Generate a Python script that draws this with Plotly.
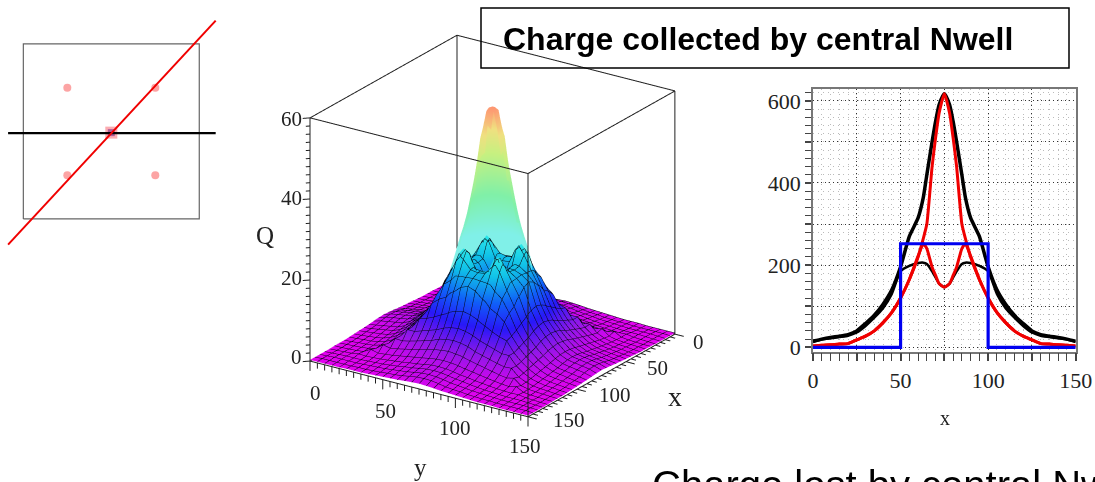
import plotly.graph_objects as go
import numpy as np

W, H = 1095, 482

# ---- left sketch ----
pts_x = [37.5, 112.5, 37.5, 112.5]
pts_y = [112.5, 112.5, 37.5, 37.5]
centre_x = [75]
centre_y = [74]
square_x = [0, 150, 150, 0, 0]
square_y = [0, 0, 150, 150, 0]
hline_x = [-13, 164]
hline_y = [73.5, 73.5]
diag_x = [-13, 164]
diag_y = [-22, 170]

# ---- right slices ----
slice_x = [0, 5, 10, 15, 20, 25, 30, 35, 40, 45, 50, 55, 60, 63, 65, 68, 70, 72, 75,
           78, 80, 82, 85, 87, 90, 95, 100, 105, 110, 115, 120, 125, 130, 135, 140, 145, 150]
black_peak = [15, 20, 24, 27, 31, 40, 58, 78, 105, 140, 196, 270, 315, 365, 420, 500, 550, 590, 617,
              590, 550, 500, 420, 365, 315, 270, 196, 140, 105, 78, 58, 40, 31, 27, 24, 20, 15]
black_bump = [13, 19, 22, 25, 28, 36, 52, 72, 95, 130, 185, 198, 205, 206, 203, 185, 170, 155, 146,
              155, 170, 185, 203, 206, 205, 198, 185, 130, 95, 72, 52, 36, 28, 25, 22, 19, 13]
red_peak = [3, 5, 6, 8, 9, 18, 27, 40, 60, 85, 120, 165, 220, 265, 300, 440, 510, 570, 617,
            570, 510, 440, 300, 265, 220, 165, 120, 85, 60, 40, 27, 18, 9, 8, 6, 5, 3]
red_bump = [3, 5, 6, 8, 9, 18, 27, 40, 60, 85, 120, 165, 222, 252, 240, 195, 175, 155, 146,
            155, 175, 195, 240, 252, 222, 165, 120, 85, 60, 40, 27, 18, 9, 8, 6, 5, 3]
blue_x = [0, 50, 50, 100, 100, 150]
blue_y = [0, 0, 252, 252, 0, 0]

# ---- 3D surface: distance from centre, upper triangle of the symmetric quarter ----
d_vals = [0, 5, 9, 12, 15, 20, 25, 30, 35, 40, 45, 50, 55, 60, 65, 70, 75]
crown_rows = [
    [14.5, 17, 19.8, 20.6, 20.5, 19.8, 18.5, 13, 9.5, 7.2, 5.2, 3.6, 2.8, 2.5, 2.2, 1.9, 1.3],
    [17.5, 20, 21, 20.8, 19.6, 17.8, 12.6, 9.2, 7, 5, 3.5, 2.7, 2.4, 2.1, 1.8, 1.2],
    [23.5, 24.2, 22.5, 19.5, 16.5, 12, 8.8, 6.7, 4.8, 3.3, 2.5, 2.2, 1.9, 1.6, 1.1],
    [25, 23.5, 19.3, 15.8, 11.3, 8.3, 6.3, 4.5, 3.1, 2.3, 2, 1.7, 1.4, 1],
    [22, 18, 14.5, 10.8, 7.8, 5.8, 4.2, 2.9, 2.1, 1.8, 1.5, 1.2, 0.9],
    [16.5, 13.5, 9.8, 7.2, 5.3, 3.8, 2.6, 1.9, 1.6, 1.3, 1, 0.8],
    [12, 9, 6.6, 4.8, 3.4, 2.3, 1.6, 1.3, 1.1, 0.9, 0.7],
    [8.5, 6, 4.3, 3, 2, 1.4, 1.1, 0.9, 0.7, 0.6],
    [6, 3.9, 2.6, 1.7, 1.2, 0.9, 0.8, 0.6, 0.5],
    [4, 2.3, 1.5, 1, 0.8, 0.7, 0.5, 0.4],
    [2.7, 1.3, 0.9, 0.7, 0.6, 0.5, 0.4],
    [1.8, 0.8, 0.6, 0.5, 0.4, 0.4],
    [0.9, 0.6, 0.5, 0.4, 0.3],
    [0.6, 0.5, 0.4, 0.3],
    [0.5, 0.4, 0.3],
    [0.4, 0.3],
    [0.3],
]
spike_d = [0, 2.5, 5, 7.5, 10, 12.5, 15, 17.5, 20, 25, 30]
spike_rows = [
    [59.5, 59, 55, 48.5, 41.5, 36, 32, 28.5, 26.5, 20, 12],
    [59, 58.5, 54, 47.5, 41, 36, 31.5, 28, 26, 19.5, 12],
    [55, 54, 52, 45.5, 39.5, 35, 31, 27.5, 25, 18, 11.5],
    [48.5, 47.5, 45.5, 42, 37.5, 33, 29.5, 26.5, 23, 17, 11],
    [41.5, 41, 39.5, 37.5, 34, 30.5, 27.5, 24, 20, 15, 10],
    [36, 36, 35, 33, 30.5, 28, 25.5, 22, 18, 13, 9],
    [32, 31.5, 31, 29.5, 27.5, 25.5, 23, 20, 16, 11, 8],
    [28.5, 28, 27.5, 26.5, 24, 22, 20, 17, 14, 10, 7.5],
    [26.5, 26, 25, 23, 20, 18, 16, 14, 12, 9, 7],
    [20, 19.5, 18, 17, 15, 13, 11, 10, 9, 8, 6],
    [12, 12, 11.5, 11, 10, 9, 8, 7.5, 7, 6, 5],
]
box_ticks_xy = list(range(0, 151, 5))
box_ticks_z = list(range(0, 61, 2))


def full_grid(dvals, rows_triangle):
    n = len(dvals)
    q = np.zeros((n, n))
    for i, row in enumerate(rows_triangle):
        for k, v in enumerate(row):
            q[i, i + k] = v
            q[i + k, i] = v
    idx = list(range(n - 1, 0, -1)) + list(range(n))
    return np.array([75 - dvals[i] for i in range(n - 1, 0, -1)] + [75 + dvals[i] for i in range(n)]), q[np.ix_(idx, idx)]


crown_xy, crown_z = full_grid(d_vals, crown_rows)
spike_tri = [r[i:] for i, r in enumerate(spike_rows)]
spike_xy, spike_z = full_grid(spike_d, spike_tri)
# only the part standing behind the crown is seen
sx, sy = np.meshgrid(spike_xy, spike_xy)
spike_z = np.where((sx - 75) * 0.77 + (sy - 75) * 0.52 <= 6, spike_z, np.nan)


def px(x):
    return x / W


def py(y):
    return 1 - y / H


fig = go.Figure()
# left sketch (xaxis2)
fig.add_trace(go.Scatter(x=square_x, y=square_y, mode="lines", line=dict(color="#666666", width=1.2), xaxis="x2", yaxis="y2"))
fig.add_trace(go.Scatter(x=pts_x, y=pts_y, mode="markers", marker=dict(color="rgba(250,90,90,0.55)", size=8), xaxis="x2", yaxis="y2"))
fig.add_trace(go.Scatter(x=centre_x, y=centre_y, mode="markers", marker=dict(color="rgba(250,90,100,0.5)", size=12, symbol="square"), xaxis="x2", yaxis="y2"))
fig.add_trace(go.Scatter(x=centre_x, y=centre_y, mode="markers", marker=dict(color="rgba(120,40,140,0.6)", size=7, symbol="square"), xaxis="x2", yaxis="y2"))
fig.add_trace(go.Scatter(x=hline_x, y=hline_y, mode="lines", line=dict(color="black", width=2.2), xaxis="x2", yaxis="y2"))
fig.add_trace(go.Scatter(x=diag_x, y=diag_y, mode="lines", line=dict(color="#f00000", width=2), xaxis="x2", yaxis="y2"))

# right slices
fig.add_trace(go.Scatter(x=slice_x, y=black_peak, mode="lines", line=dict(color="black", width=3.5, shape="spline", smoothing=0.5)))
fig.add_trace(go.Scatter(x=slice_x, y=black_bump, mode="lines", line=dict(color="black", width=2.5, shape="spline", smoothing=0.5)))
fig.add_trace(go.Scatter(x=slice_x, y=red_peak, mode="lines", line=dict(color="#f00000", width=3, shape="spline", smoothing=0.5)))
fig.add_trace(go.Scatter(x=slice_x, y=red_bump, mode="lines", line=dict(color="#f00000", width=3, shape="spline", smoothing=0.5)))
fig.add_trace(go.Scatter(x=blue_x, y=blue_y, mode="lines", line=dict(color="#0000f0", width=3.2)))

# 3D surfaces
crown_scale = [[0, "#e800f0"], [0.2, "#9018e8"], [0.4, "#2818f8"], [0.6, "#1060f8"], [0.8, "#10c0e8"], [1, "#30f0e8"]]
spike_scale = [[0, "#80f0e8"], [0.3, "#80f0a8"], [0.62, "#c8f080"], [0.8, "#f0e080"], [1, "#ff9070"]]
flat = dict(ambient=1, diffuse=0, specular=0, fresnel=0, roughness=1)
fig.add_trace(go.Surface(x=spike_xy, y=spike_xy, z=spike_z, colorscale=spike_scale, cmin=25, cmax=60, showscale=False,
                         lighting=flat, hoverinfo="skip", scene="scene"))
mesh = dict(show=True, start=0, end=150, size=5, color="#050510", width=6, highlight=False)
fig.add_trace(go.Surface(x=crown_xy, y=crown_xy, z=crown_z, colorscale=crown_scale, cmin=0, cmax=26, showscale=False,
                         lighting=flat, hoverinfo="skip", scene="scene",
                         contours=dict(x=mesh, y=mesh, z=dict(show=False, highlight=False))))

# cube edges and ticks
ex, ey, ez = [], [], []
for a, b in [((0,0,0),(150,0,0)),((150,0,0),(150,150,0)),((150,150,0),(0,150,0)),((0,150,0),(0,0,0)),
             ((0,0,60),(150,0,60)),((150,0,60),(150,150,60)),((150,150,60),(0,150,60)),((0,150,60),(0,0,60)),
             ((0,0,0),(0,0,60)),((150,0,0),(150,0,60)),((150,150,0),(150,150,60)),((0,150,0),(0,150,60))]:
    ex += [a[0], b[0], None]; ey += [a[1], b[1], None]; ez += [a[2], b[2], None]
fig.add_trace(go.Scatter3d(x=ex, y=ey, z=ez, mode="lines", line=dict(color="#202020", width=2), hoverinfo="skip", scene="scene"))
tx, ty, tz = [], [], []
for t in box_ticks_xy:
    ln = 6 if t % 50 == 0 else 3.5
    tx += [150, 150, None]; ty += [t, t, None]; tz += [0, -ln / 2.5, None]
    tx += [t, t, None]; ty += [150, 150 + ln, None]; tz += [0, 0, None]
for t in box_ticks_z:
    ln = 6 if t % 20 == 0 else 3.5
    tx += [150, 150 + ln * 0.5, None]; ty += [0, -ln * 0.5, None]; tz += [t, t, None]
fig.add_trace(go.Scatter3d(x=tx, y=ty, z=tz, mode="lines", line=dict(color="#202020", width=2), hoverinfo="skip", scene="scene"))

eye = np.array([0.767, 0.517, 0.379]) * 1.9
hid = dict(visible=False, showgrid=False, zeroline=False, showspikes=False, showbackground=False)
ext = 166.0 / 150 * 1.163
fig.update_layout(
    width=W, height=H, autosize=False, showlegend=False,
    margin=dict(l=0, r=0, t=0, b=0, autoexpand=False),
    paper_bgcolor="white", plot_bgcolor="white",
    font=dict(family="Liberation Serif", color="#222222", size=22),
    xaxis=dict(domain=[px(813), px(1075.7)], range=[0, 150], anchor="y", tickvals=[0, 25, 50, 75, 100, 125, 150],
               ticktext=["0", "", "50", "", "100", "", "150"], ticks="outside", ticklen=8, tickwidth=1.5, tickcolor="#444",
               showline=True, linecolor="#777", linewidth=1.5, mirror=True, zeroline=False,
               showgrid=True, griddash="1px,3px", gridcolor="#333", gridwidth=1,
               tickfont=dict(size=22), ticklabelstandoff=0,
               minor=dict(dtick=5, ticks="outside", ticklen=8, tickwidth=1.2, tickcolor="#444", showgrid=True,
                          griddash="1px,4px", gridcolor="#bbbbbb", gridwidth=1)),
    yaxis=dict(domain=[py(351.7), py(89.3)], range=[-10.7, 628], anchor="x", tickvals=[0, 100, 200, 300, 400, 500, 600],
               ticktext=["0", "", "200", "", "400", "", "600"], ticks="outside", ticklen=6, tickwidth=1.5, tickcolor="#444",
               showline=True, linecolor="#777", linewidth=1.5, mirror=True, zeroline=False,
               showgrid=True, griddash="1px,3px", gridcolor="#333", gridwidth=1,
               tickfont=dict(size=22), ticklabelstandoff=0,
               minor=dict(dtick=20, ticks="outside", ticklen=6, tickwidth=1.2, tickcolor="#444", showgrid=True,
                          griddash="1px,4px", gridcolor="#bbbbbb", gridwidth=1)),
    xaxis2=dict(domain=[0, px(230)], range=[-19.9, 176.2], visible=False, anchor="y2"),
    yaxis2=dict(domain=[py(250), py(10)], range=[-26.6, 179.1], visible=False, anchor="x2"),
    scene=dict(
        domain=dict(x=[px(262), px(723)], y=[py(452), py(0)]),
        bgcolor="rgba(0,0,0,0)",
        xaxis=dict(range=[-8, 158], **hid), yaxis=dict(range=[-8, 158], **hid), zaxis=dict(range=[-3.2, 63.2], **hid),
        aspectmode="manual", aspectratio=dict(x=ext, y=ext, z=ext),
        camera=dict(eye=dict(x=eye[0], y=eye[1], z=eye[2]), center=dict(x=0, y=0, z=0), up=dict(x=0, y=0, z=1),
                    projection=dict(type="orthographic")),
    ),
    shapes=[dict(type="rect", xref="paper", yref="paper", x0=px(481), x1=px(1069), y0=py(68), y1=py(8),
                 line=dict(color="black", width=1.5))],
)


def label(text, x, y, size=21, family="Liberation Serif", weight="normal", xanchor="center", color="#222222"):
    fig.add_annotation(xref="paper", yref="paper", x=px(x), y=py(y), text=text, showarrow=False, xanchor=xanchor, yanchor="middle",
                       font=dict(size=size, family=family, weight=weight, color=color))


label("Charge collected by central Nwell", 501, 39, size=32, family="Liberation Sans", weight="bold", xanchor="left", color="black")
label("Charge lost by central Nwell", 650, 484.5, size=40, family="Liberation Sans", xanchor="left", color="black")
label("x", 945, 418, size=20)
for text, x, y in [("60", 291, 119), ("40", 291, 198), ("20", 291, 278), ("0", 296, 357),
                   ("0", 315, 393), ("50", 385, 411), ("100", 455, 428), ("150", 525, 446),
                   ("0", 698, 342), ("50", 657, 368), ("100", 615, 395), ("150", 569, 420)]:
    label(text, x, y)
label("Q", 265, 235, size=25)
label("x", 675, 396, size=28)
label("y", 420, 467, size=25)

fig.write_html("out.html", post_script="document.body.style.margin='0';", config=dict(displayModeBar=False))
